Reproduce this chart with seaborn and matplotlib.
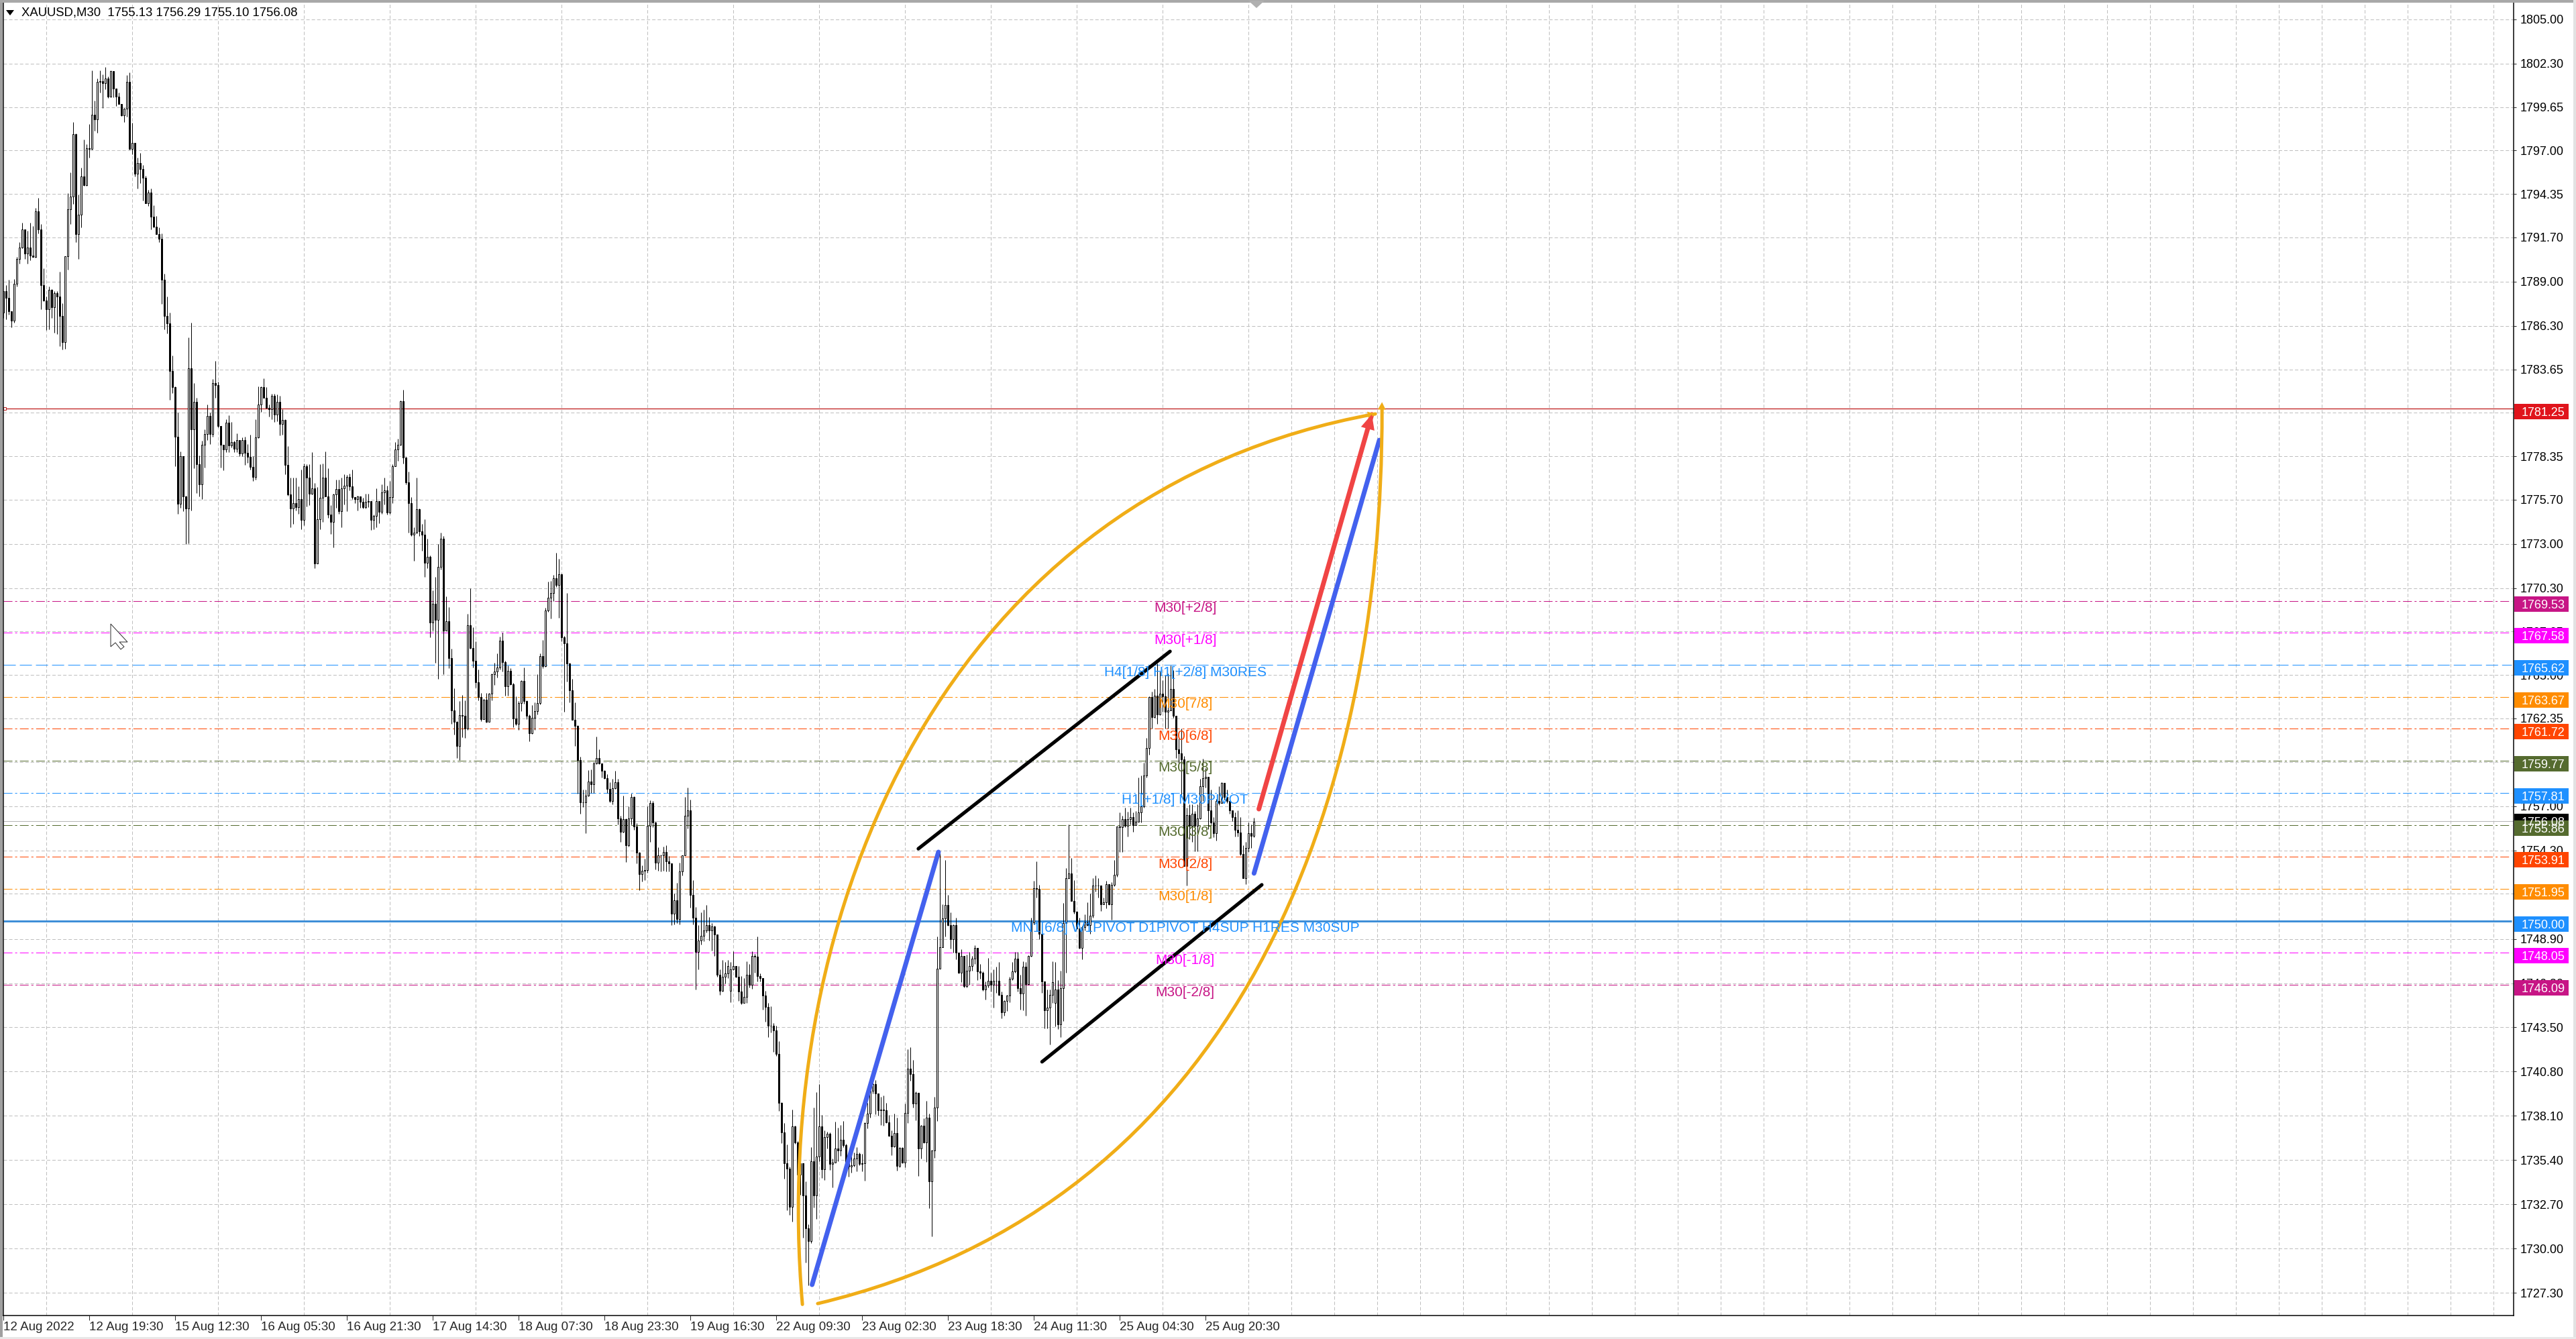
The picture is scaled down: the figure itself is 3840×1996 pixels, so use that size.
import matplotlib
matplotlib.use("Agg")
import matplotlib.pyplot as plt
from matplotlib.patches import PathPatch, Polygon, Rectangle
from matplotlib.path import Path
from matplotlib.transforms import IdentityTransform
import numpy as np
import pandas as pd
import seaborn as sns

sns.set_style("white")
plt.rcParams["font.family"] = ["Liberation Sans", "DejaVu Sans"]
plt.rcParams["lines.scale_dashes"] = False

# candles (one value per M30 bar)
closes = [
    1788.4,1788.0,1787.2,1786.6,1788.85,1790.4,1791.1,1792.2,1790.7,1791.1,
    1790.6,1790.5,1793.3,1792.2,1788.8,1787.85,1787.3,1788.5,1787.45,1788.3,
    1788.1,1786.9,1785.3,1790.55,1793.4,1794.2,1798.0,1791.9,1793.1,1795.4,
    1794.9,1797.15,1797.1,1799.2,1798.9,1801.2,1801.25,1801.1,1801.4,1800.3,
    1801.85,1800.8,1800.3,1799.85,1799.15,1799.55,1801.2,1797.1,1797.45,1795.6,
    1796.25,1795.85,1795.35,1793.8,1794.45,1792.95,1792.35,1791.9,1791.6,1789.1,
    1786.9,1786.45,1783.55,1782.55,1779.55,1775.45,1778.35,1775.9,1775.15,1783.7,
    1780,1781.65,1777.85,1776.65,1779.05,1779.7,1780.8,1779.7,1782.8,1782.7,
    1780.2,1779.05,1778.75,1780.4,1779,1779.2,1778.8,1779.35,1778.5,1779.35,
    1778.55,1778.3,1777.7,1777.1,1779.5,1781.5,1782.55,1781.9,1781.3,1781.2,
    1782.05,1780.9,1781.65,1780.3,1780.55,1777.8,1776,1775.15,1775.5,1775.25,
    1775.75,1774.45,1777.75,1777.05,1776.05,1776.4,1771.8,1774.5,1775.8,1777.05,
    1775.9,1774.8,1774.35,1776,1776.35,1775,1776.4,1776.55,1777.1,1776.5,
    1775.85,1775.75,1775.9,1775.55,1775.25,1775.55,1775.6,1774.45,1774.7,1775.6,
    1774.95,1776.15,1776.25,1774.9,1775.85,1777.75,1778.75,1779.05,1781.7,1778.25,
    1776.75,1775.5,1773.55,1773.7,1775.1,1773.75,1773.55,1771.85,1772.2,1768.2,
    1769.35,1768.35,1771.6,1773.3,1767.7,1768.3,1766.05,1762.85,1762.15,1760.65,
    1762.55,1762.5,1761.75,1768.05,1766.65,1765.85,1764.55,1763.65,1762.3,1763.5,
    1762.15,1763.85,1765.05,1765.2,1765.45,1767.1,1765.8,1764.3,1765.25,1764.45,
    1762.35,1762,1763.3,1764.65,1763.4,1762.5,1761.45,1762.4,1762.8,1763.3,
    1766.15,1765.55,1768.95,1769.7,1770,1770.9,1770.5,1771.15,1767.3,1766.95,
    1765.7,1764.05,1762.25,1761.9,1759.8,1757.25,1757.25,1757.65,1758.5,1758.35,
    1759.6,1759.95,1759.6,1759.15,1758.7,1758.05,1757.3,1758.1,1758.45,1756.25,
    1755.45,1756.2,1754.6,1756.25,1757.55,1755.75,1754.15,1752.85,1753.05,1753.1,
    1755.8,1757.2,1756,1753.55,1754,1754,1754.2,1753.65,1753.5,1750.45,
    1751.25,1750.1,1753,1754,1756.4,1756.75,1751.6,1750.2,1748.1,1748.8,
    1749.1,1749.4,1749.75,1749.4,1749.65,1749.15,1746.7,1745.75,1746.6,1746.8,
    1747.25,1747.05,1747.25,1746.6,1745.7,1745,1745.35,1746.7,1746.1,1747.85,
    1747.8,1746.65,1746.5,1745.45,1744.75,1743.6,1743.6,1743.3,1741.9,1738.9,
    1737.1,1735.2,1734.9,1732.55,1737.45,1736.5,1734.5,1735.2,1733.25,1731.25,
    1730.45,1735.35,1733.25,1735.6,1737.45,1734.85,1736.8,1737,1735.15,1735.25,
    1736.1,1736,1736.65,1736.3,1735.2,1735,1735.1,1735.5,1735.8,1735.15,
    1735.2,1737.65,1738.25,1739.65,1740.05,1739.45,1738.45,1738.5,1738.45,1737.7,
    1736.9,1736.25,1737.05,1735.05,1736.15,1735.25,1738.3,1741,1740.65,1738.85,
    1739.5,1736.1,1737.5,1736.5,1738,1734.1,1736,1738.6,1747.1,1748.4,
    1750.15,1750.95,1749.75,1748.9,1749.75,1748.05,1746.85,1747.85,1746,1746.95,
    1747.25,1747.7,1748.35,1746.9,1746.85,1745.8,1746.05,1746.35,1746.1,1746.35,
    1746.35,1745.5,1744.4,1745.1,1745.45,1746.45,1746.9,1747.7,1745.9,1745.55,
    1747.2,1746.15,1747.85,1749.9,1752,1751.95,1749.2,1746.3,1744.55,1744.7,
    1745.5,1746.25,1745.8,1743.7,1745.9,1749.85,1752.6,1752.9,1751.2,1750.55,
    1749.55,1748.35,1749.6,1749.9,1749.75,1750.3,1752.15,1752.15,1752.15,1751,
    1751.15,1752.25,1751,1752.2,1752.8,1755.75,1755.7,1756.2,1755.8,1756.2,
    1756.35,1755.85,1756.05,1756.6,1757,1758.85,1760.55,1763.65,1762.45,1763.75,
    1762.6,1763.85,1763.7,1762.75,1762.85,1764.15,1762.5,1760.45,1760.2,1759.85,
    1753.35,1756.45,1755.8,1756.55,1755.8,1756.25,1758.2,1758.7,1758.8,1756.75,
    1756,1755.35,1757.3,1757.2,1758.4,1757.55,1757.3,1756.75,1756.35,1755.55,
    1755.4,1754.1,1752.6,1754.45,1755.35,1755.2,1756.05,
]
highs = [
    1788.4,1788.8,1789.1,1787.2,1789.15,1790.5,1791.4,1792.6,1792.2,1792.1,
    1792.6,1792.4,1793.5,1794.1,1792.5,1789.8,1788.1,1788.7,1788.55,1788.4,
    1788.4,1789.6,1787.7,1790.55,1794.4,1795.65,1798.75,1798.05,1794.3,1795.95,
    1797.65,1797.4,1798.6,1801.9,1800.05,1801.4,1801.9,1801.65,1802.1,1801.5,
    1801.9,1801.85,1800.8,1800.55,1799.85,1799.6,1801.6,1801.75,1798.7,1797.45,
    1796.55,1796.85,1796.1,1795.45,1794.6,1794.7,1793.65,1793,1792.3,1791.95,
    1789.5,1788.1,1787.1,1784.5,1782.6,1781,1778.65,1778.35,1775.95,1785.6,
    1786.5,1782.8,1781.9,1778.4,1779.3,1780,1781.5,1781,1783.05,1784.15,
    1782.9,1780.2,1779.05,1780.6,1780.85,1780.45,1779.3,1779.75,1779.35,1779.5,
    1779.55,1779.1,1779.65,1778.35,1780.6,1782.6,1782.6,1783.1,1782.55,1781.5,
    1782.15,1782.15,1782.1,1782.05,1781.2,1780.6,1778.95,1777.05,1777.05,1777.05,
    1776.5,1777.55,1777.9,1777.85,1777.85,1778.6,1776.7,1776.45,1777.85,1777.9,
    1778.65,1777.6,1775.35,1776.05,1776.9,1776.9,1777.05,1777.25,1777.2,1777.3,
    1777.55,1775.85,1775.95,1775.9,1775.8,1776.05,1776.05,1775.6,1774.8,1776.4,
    1775.6,1776.65,1777.05,1776.55,1776.85,1777.85,1779.2,1779.4,1781.75,1782.4,
    1778.3,1777.4,1775.85,1774,1777.05,1775.15,1774.2,1774.5,1773.3,1772.3,
    1770.15,1771,1773,1773.7,1773.5,1769.8,1769.15,1766.6,1764.2,1762.2,
    1763.4,1763.8,1763.45,1768.75,1770.3,1767.9,1767.05,1765.35,1763.9,1763.55,
    1763.9,1763.9,1765.1,1765.75,1766.3,1767.35,1767.6,1765.85,1765.6,1765.4,
    1764.5,1763.7,1763.4,1764.7,1765.45,1763.45,1762.6,1763.15,1763.35,1765.05,
    1766.3,1767.15,1769.1,1770.7,1770.75,1771.1,1772.45,1772.1,1771.2,1767.4,
    1770,1765.75,1764.75,1763.35,1761.95,1760,1758,1758,1759.2,1759.25,
    1759.7,1761.25,1760.45,1759.6,1759.2,1758.95,1758.45,1758.65,1759.15,1758.65,
    1756.4,1757.65,1756.25,1757,1757.75,1757.6,1755.95,1754.2,1753.4,1753.8,
    1757,1757.35,1757.3,1756.05,1754.5,1754.05,1754.55,1754.6,1753.95,1753.5,
    1751.65,1752.3,1753.55,1754,1757.55,1758.15,1757.4,1752.5,1750.85,1749.75,
    1750.5,1750.7,1750.95,1750.25,1749.85,1749.7,1749.15,1747.05,1747.6,1747.5,
    1747.6,1747.5,1748.15,1747.25,1747.25,1746.65,1746.5,1747.55,1747.35,1748.15,
    1748,1749.05,1746.8,1746.5,1745.75,1745,1744.8,1743.75,1743.6,1742.65,
    1738.95,1737.65,1736.35,1735,1738.5,1737.5,1736.55,1736.15,1735.2,1734.1,
    1731.5,1736.2,1738.6,1739.55,1740.05,1738.15,1737.2,1737.15,1737.1,1735.5,
    1737.75,1737.4,1737.55,1737.8,1736.4,1735.3,1735.85,1735.85,1736.2,1735.85,
    1735.8,1737.7,1738.9,1739.85,1740.55,1740.3,1739.45,1739.25,1739.35,1738.9,
    1738.15,1737.2,1738.25,1738,1736.2,1736.2,1738.85,1742.15,1742.3,1741.5,
    1739.6,1739.5,1737.55,1737.95,1739,1738.25,1736.05,1739.25,1749.05,1754.15,
    1751,1753.7,1751.6,1750.5,1749.8,1750.2,1747.05,1748.25,1747.85,1747.95,
    1748.1,1747.85,1748.5,1747.2,1747.35,1746.9,1746.3,1747.75,1746.85,1747.05,
    1747.2,1747.5,1745.7,1745.15,1745.5,1746.6,1747.5,1748.1,1748.1,1746.7,
    1747.55,1747.5,1747.9,1750.2,1752.45,1753.65,1752.2,1749.2,1746.3,1745.8,
    1745.8,1747.55,1747.5,1746.4,1746.95,1751.1,1753.2,1755.9,1753.85,1752.5,
    1750.6,1750.2,1749.7,1750.4,1751.15,1751.65,1752.6,1752.75,1752.6,1751.4,
    1751.4,1752.45,1752.25,1752.35,1753.7,1755.75,1756.6,1756.4,1756.9,1756.65,
    1756.9,1756.6,1756.7,1758.75,1758.85,1759.65,1761.15,1763.7,1764,1764.15,
    1765.7,1765.2,1764.7,1765,1765.1,1765.6,1765.3,1762.5,1761.1,1761.75,
    1760.05,1756.9,1757.1,1757.1,1756.7,1757.1,1758.65,1759.9,1759.3,1758.75,
    1758,1756.35,1757.45,1758.2,1758.45,1758.2,1758,1757.25,1756.5,1756.6,
    1756.75,1756.35,1754.6,1754.8,1756,1755.9,1756.3,
]
lows = [
    1786.8,1786.7,1787,1786.2,1786.5,1788.7,1790.1,1791.05,1790.4,1790.1,
    1790.3,1790.5,1790.45,1791.95,1787.3,1787.8,1786.05,1786.1,1786.8,1785.9,
    1785.8,1785.05,1784.85,1784.9,1789.75,1792.5,1793.75,1791.4,1790.4,1792.3,
    1794.85,1794.85,1796.55,1797.05,1798.2,1798.1,1800.55,1799.6,1800.75,1800.2,
    1800.25,1800.25,1799.7,1799.85,1799.1,1798.75,1799.05,1797.05,1796.75,1795.4,
    1794.7,1795,1793.95,1793.8,1793.6,1792.2,1792.3,1791.9,1791.4,1787.65,
    1786.1,1785.85,1781.8,1782.2,1777.75,1774.85,1775.2,1775,1773,1773.05,
    1775.05,1777.6,1776.1,1775.9,1775.75,1777.65,1779.35,1779.1,1779.55,1781.9,
    1780.1,1777.65,1777.5,1778.6,1778.6,1778.9,1778.6,1778.6,1778.35,1778.35,
    1777.8,1777.95,1777.55,1776.85,1776.9,1779.45,1781.05,1781.9,1781.3,1780.75,
    1780.6,1780.45,1780.5,1779.6,1779.65,1777.25,1775.95,1774,1774.2,1775.05,
    1774.85,1773.9,1774.15,1775.3,1775.35,1776,1771.5,1771.8,1773.9,1774.35,
    1775.9,1774.6,1773.6,1772.8,1775.2,1774.85,1774,1775.4,1775,1776.25,
    1775.75,1775.5,1775.05,1775.2,1775.15,1775.15,1775.25,1773.85,1773.9,1774,
    1774.25,1774.85,1775.4,1774.8,1774.85,1775.5,1777.75,1778.05,1779,1777.9,
    1776.65,1773.7,1773.5,1771.95,1773.65,1773.5,1772.6,1771,1771.5,1767.3,
    1767.7,1765.75,1764.75,1771.45,1765.05,1767.75,1765.4,1762,1761.35,1759.95,
    1759.8,1761.2,1761.15,1761.65,1766.6,1765.45,1764.25,1763.45,1762.2,1762.35,
    1762.1,1762.3,1763.45,1764.4,1764.85,1765.35,1765.2,1763.75,1763.75,1764.4,
    1761.8,1761.95,1761.65,1762.8,1763.25,1762.3,1760.95,1761.4,1761.65,1762.6,
    1763.2,1765.4,1765.5,1768.85,1768.45,1769.5,1770.35,1768.5,1767.05,1762.75,
    1764.6,1763.35,1762.25,1760.65,1757.75,1756.55,1756.95,1755.35,1757.6,1757.8,
    1757.8,1759.55,1759.55,1758.75,1758.65,1757.8,1757.25,1757.1,1758.05,1755.9,
    1754.8,1755.4,1753.6,1754.55,1755.9,1755.55,1753.5,1751.85,1752.4,1752.5,
    1752.95,1754.8,1755.7,1753.15,1753.05,1753,1753.05,1753,1753,1749.75,
    1749.8,1749.85,1749.8,1752.75,1754,1755.65,1750.8,1749.8,1745.8,1747.05,
    1748.55,1748.75,1749.3,1748.8,1748.2,1747.85,1746.6,1745.5,1745.7,1746.2,
    1746.5,1745.05,1747,1746.55,1745.1,1744.9,1745,1745,1745.95,1745.85,
    1746.85,1746.3,1746.3,1744.6,1743.85,1742.9,1743.2,1742,1741.75,1738.4,
    1736.45,1734.25,1732.35,1732.05,1731.65,1736.4,1734.45,1733.3,1730.65,1729.15,
    1727.75,1730.35,1732.5,1731.8,1735.35,1734.3,1734.2,1736.1,1734.8,1733.75,
    1735.95,1735.35,1735.65,1736.2,1735.15,1734.4,1734.65,1735,1734.7,1735.1,
    1734.7,1734.15,1737.35,1738,1739.45,1738.2,1738.1,1737.55,1737.5,1737.65,
    1736.85,1735.7,1736.2,1734.75,1734.95,1735.2,1734.95,1737.65,1740.25,1738.6,
    1737.85,1734.45,1735.5,1736.45,1735.3,1732.45,1730.75,1735.55,1737.8,1747.1,
    1748.4,1749.05,1749.7,1748.3,1748.05,1747.65,1746.8,1746.25,1745.95,1745.95,
    1746.1,1746.95,1747.35,1746.4,1746.45,1745.75,1745.2,1745.95,1745.7,1744.7,
    1745.6,1745.45,1744.05,1744.2,1744.5,1745.05,1746.4,1746.85,1745.7,1744.6,
    1744.55,1744.2,1746.1,1747.8,1749.8,1751.4,1748.9,1745.6,1743.45,1743.45,
    1742.45,1745,1743.55,1743.4,1742.9,1743.9,1746.85,1752.55,1751.2,1750.45,
    1749.5,1748.3,1747.65,1749.4,1749.7,1749.2,1750.2,1751.8,1751.4,1750.6,
    1751,1750.75,1750.95,1750.05,1752.1,1752.7,1754.2,1754.2,1755.7,1755.15,
    1755.9,1755.45,1756,1756.55,1756,1756.9,1758.75,1760.15,1761.75,1762.4,
    1762,1762.55,1762.75,1761.75,1761.75,1762.95,1762.4,1759.95,1759.65,1757.55,
    1753.35,1752.15,1755,1754.8,1754.25,1754.25,1756.2,1757.3,1758.15,1755.6,
    1755.9,1755.1,1754.9,1757.05,1757.5,1757.4,1757.2,1756.55,1756.1,1755.15,
    1755.15,1754,1752.6,1752.25,1754.2,1754.45,1755.1,
]
first_open = 1787.1
open_gaps = {271: 1745.75, 392: 1745.0}

# axis labels
y_tick_values = [1805.00, 1802.30, 1799.65, 1797.00, 1794.35, 1791.70, 1789.00, 1786.30, 1783.65,
                 1781.00, 1778.35, 1775.70, 1773.00, 1770.30, 1767.65, 1765.00, 1762.35, 1759.70,
                 1757.00, 1754.30, 1751.65, 1748.90, 1746.20, 1743.50, 1740.80, 1738.10, 1735.40,
                 1732.70, 1730.00, 1727.30]
x_tick_labels = ["12 Aug 2022", "12 Aug 19:30", "15 Aug 12:30", "16 Aug 05:30", "16 Aug 21:30",
                 "17 Aug 14:30", "18 Aug 07:30", "18 Aug 23:30", "19 Aug 16:30", "22 Aug 09:30",
                 "23 Aug 02:30", "23 Aug 18:30", "24 Aug 11:30", "25 Aug 04:30", "25 Aug 20:30"]

# murrey levels
level_prices = [1769.53, 1767.58, 1765.62, 1763.67, 1761.72, 1759.77, 1757.81,
                1755.86, 1753.91, 1751.95, 1750.00, 1748.05, 1746.09]
level_colors = ["#C71585", "#FF00FF", "#1E90FF", "#FF8C00", "#FF4500", "#556B2F", "#1E90FF",
                "#556B2F", "#FF4500", "#FF8C00", "#1E90FF", "#FF00FF", "#C71585"]
level_texts = ["M30[+2/8]", "M30[+1/8]", "H4[1/8] H1[+2/8] M30RES", "M30[7/8]", "M30[6/8]", "M30[5/8]",
               "H1[+1/8] M30PIVOT", "M30[3/8]", "M30[2/8]", "M30[1/8]",
               "MN1[6/8] W1PIVOT D1PIVOT H4SUP H1RES M30SUP", "M30[-1/8]", "M30[-2/8]"]
current_price = 1756.08
target_price = 1781.25

# drawn objects, as (bar, price)
arc_upper_bar = [297.7, 297.3, 298.5, 299.7, 303.7, 308.9, 373.7, 390.5, 448.7, 463.7, 480, 496.2, 511.2]
arc_upper_price = [1726.6, 1731.8, 1738.0, 1741.1, 1745, 1748.9, 1769.1, 1771.3, 1777.6, 1778.6, 1779.6, 1780.4, 1780.93]
arc_lower_bar = [303.4, 336.4, 352.3, 368.2, 384.2, 400.2, 416.2, 431.9, 447.9, 451.7, 463.9, 469.4, 478.9, 488.4, 498, 502.9, 507.7, 510.4, 512.4, 513.7]
arc_lower_price = [1726.65, 1728.33, 1729.6, 1730.83, 1732.38, 1734.1, 1736.2, 1738.93, 1742.04, 1742.74, 1745.93, 1747.65, 1750.76, 1754.4, 1760.05, 1764.1, 1769.02, 1771.4, 1775.8, 1781.2]
blue_bar = [[301.3, 348.4], [466, 512.7]]
blue_price = [[1727.8, 1754.2], [1752.9, 1779.33]]
black_bar = [[340.9, 434.7], [387, 468.9]]
black_price = [[1754.4, 1766.44], [1741.4, 1752.2]]
red_bar = [467.8, 509.9]
red_price = [1756.82, 1780.9]

W, H = 3840, 1996
PX = 0.72  # one pixel in points at dpi 100
ORANGE, BLUE, RED = "#F0AD17", "#4361EE", "#F04444"

df = pd.DataFrame({"close": closes, "high": highs, "low": lows})
df["bar"] = df.index
df["open"] = df["close"].shift(1).fillna(first_open)
for bar, value in open_gaps.items():
    df.loc[bar, "open"] = value
rising = df["close"] >= df["open"]

fig = plt.figure(figsize=(W / 100, H / 100), dpi=100, facecolor="white")
ax = fig.add_axes([4.5 / W, (H - 1961) / H, (3747 - 4.5) / W, (1961 - 4) / H])
ax.set_xlim(-0.2, 935.4)
ax.set_ylim(1725.92, 1806.02)
ax.set_axisbelow(True)

# grid and ticks
ax.set_yticks(y_tick_values)
ax.set_yticklabels([f"{v:.2f}" for v in y_tick_values])
ax.set_xticks(np.arange(len(x_tick_labels)) * 32)
ax.set_xticklabels(x_tick_labels, ha="left")
ax.set_xticks(np.arange(0, 935, 16), minor=True)
ax.grid(True, axis="y", which="major", color="#BEBEBE", lw=PX, ls=(0, (3.6, 2.2)), snap=True)
ax.grid(True, axis="x", which="minor", color="#BEBEBE", lw=PX, ls=(0, (3.6, 2.2)), snap=True)
ax.tick_params(axis="y", which="major", left=False, right=True, labelleft=False, labelright=True,
               length=3, width=PX, pad=4, labelsize=13, labelcolor="black")
ax.tick_params(axis="x", which="major", bottom=True, length=5, width=PX, pad=1.5, labelsize=13.5)
ax.tick_params(axis="x", which="minor", bottom=False)
for side in ["left", "bottom", "right"]:
    ax.spines[side].set_color("black")
    ax.spines[side].set_linewidth(1.5 * PX)
ax.spines["top"].set_visible(False)

# levels behind the candles
for price, color in zip(level_prices, level_colors):
    if price == 1750.00:
        style, width = "-", 3 * PX
        color = "#3F8FD8"
    elif price == 1765.62:
        style, width = (0, (13, 4.3)), PX
    else:
        style, width = (0, (9.4, 2.9, 2.2, 2.9)), PX
    levels = ax.hlines(price, 0, 934.6, colors=color, linestyles=style, linewidth=width, zorder=1.8)
    levels.set_snap(True)
ax.hlines(target_price, 0.4, 935.4, colors="#C02020", linewidth=1.3 * PX, zorder=1.9)
ax.hlines(current_price, -0.2, 935.4, colors="#B4B4B4", linewidth=PX, zorder=1.7)
ax.plot([0.4], [target_price], marker="s", ms=3.2, mfc="white", mec="#C02020", mew=PX, zorder=2)

# candles
ax.vlines(df["bar"], df["low"], df["high"], colors="black", linewidth=PX, zorder=2.2)
body_low = df[["open", "close"]].min(axis=1)
body_size = (df["open"] - df["close"]).abs()
ax.bar(df["bar"][rising], body_size[rising], bottom=body_low[rising], width=0.5,
       color="white", edgecolor="black", linewidth=PX, zorder=2.3)
ax.bar(df["bar"][~rising], body_size[~rising], bottom=body_low[~rising], width=0.5,
       color="black", edgecolor="black", linewidth=PX, zorder=2.3)

# drawn lines
line_style = dict(estimator=None, sort=False, legend=False, ax=ax, zorder=4)
for xs, ys in zip(blue_bar, blue_price):
    sns.lineplot(x=xs, y=ys, color=BLUE, linewidth=7 * PX, solid_capstyle="round", **line_style)
for xs, ys in zip(black_bar, black_price):
    sns.lineplot(x=xs, y=ys, color="black", linewidth=5.2 * PX, solid_capstyle="round", **line_style)
sns.lineplot(x=red_bar, y=red_price, color=RED, linewidth=7 * PX, solid_capstyle="round", **line_style)
ax.set_xlabel("")
ax.set_ylabel("")

# the two arcs are single curve objects: one cubic bezier fitted to the read anchors
def smooth_arc(xs, ys):
    scale = np.array([4.0, 24.43])  # pixels per bar and per dollar
    pts = np.column_stack([xs, ys]) * scale
    p0, p3 = pts[0], pts[-1]
    steps = np.r_[0, np.cumsum(np.hypot(*np.diff(pts, axis=0).T))]
    t = steps / steps[-1]
    for _ in range(8):
        b1, b2 = 3 * t * (1 - t) ** 2, 3 * t ** 2 * (1 - t)
        rest = pts - np.outer((1 - t) ** 3, p0) - np.outer(t ** 3, p3)
        ctrl = np.linalg.lstsq(np.column_stack([b1, b2]), rest, rcond=None)[0]
        grid = np.linspace(0, 1, 801)
        curve = (np.outer((1 - grid) ** 3, p0) + np.outer(3 * grid * (1 - grid) ** 2, ctrl[0])
                 + np.outer(3 * grid ** 2 * (1 - grid), ctrl[1]) + np.outer(grid ** 3, p3))
        nearest = ((pts[:, None, :] - curve[None, :, :]) ** 2).sum(axis=2).argmin(axis=1)
        t = grid[nearest]
    verts = np.vstack([p0, ctrl[0], ctrl[1], p3]) / scale
    path = Path(verts, [Path.MOVETO, Path.CURVE4, Path.CURVE4, Path.CURVE4])
    ax.add_patch(PathPatch(path, fill=False, edgecolor=ORANGE, linewidth=5 * PX,
                           capstyle="round", zorder=4))

smooth_arc(arc_upper_bar, arc_upper_price)
smooth_arc(arc_lower_bar, arc_lower_price)
ax.set_xlim(-0.2, 935.4)
ax.set_ylim(1725.92, 1806.02)

# arrow heads
def arrow_head(xs, ys, color, length, half_width):
    ax.annotate("", xy=(xs[-1], ys[-1]), xytext=(xs[-2], ys[-2]), zorder=4.5,
                arrowprops=dict(arrowstyle=f"-|>,head_length={length},head_width={half_width}",
                                mutation_scale=1, color=color, lw=0, shrinkA=0, shrinkB=0))

arrow_head(arc_upper_bar, arc_upper_price, ORANGE, 8, 4.2)
arrow_head(arc_lower_bar[-2:], [arc_lower_price[-2], arc_lower_price[-1] + 0.45], ORANGE, 8, 4.2)
arrow_head(red_bar, red_price, RED, 16, 7.5)

# level captions
for price, color, text in zip(level_prices, level_colors, level_texts):
    ax.text(440.3, price - 0.45, text, color=color, fontsize=15, ha="center", va="center", zorder=5)

# price boxes on the right axis
def price_box(price, color, shift=0.19):
    y = price - shift
    ax.add_patch(Rectangle((935.6, y - 0.47), 20.3, 0.94, facecolor=color, edgecolor="none",
                           clip_on=False, zorder=6))
    ax.text(938.4, y, f"{price:.2f}", color="white", fontsize=13, ha="left", va="center_baseline",
            clip_on=False, zorder=7)

price_box(current_price, "black", shift=0.0)
for price, color in zip(level_prices, level_colors):
    price_box(price, color)
price_box(target_price, "#E0141C")

# window chrome and header
def px(x, y):
    return (x, H - y)

chrome = IdentityTransform()
fig.add_artist(Rectangle(px(0, H), 3.5, H, transform=chrome, color="#A0A0A0", lw=0))
fig.add_artist(Rectangle(px(0, 3.5), W, 3.5, transform=chrome, color="#A8A8A8", lw=0))
fig.add_artist(Rectangle(px(W - 4, H), 4, H, transform=chrome, color="#E2E2E2", lw=0))
fig.add_artist(Rectangle(px(0, H), W, 3, transform=chrome, color="#E8E8E8", lw=0))
fig.add_artist(Polygon([px(9, 15), px(21, 15), px(15, 23)], transform=chrome, color="black", lw=0))
fig.add_artist(Polygon([px(1861, 1), px(1885, 1), px(1873, 12)], transform=chrome, color="#B0B0B0", lw=0))
fig.add_artist(Polygon([px(165, 930), px(190, 957), px(178, 957), px(185, 964), px(180, 968),
                        px(172, 958), px(165, 964)], transform=chrome,
                       facecolor="white", edgecolor="#303030", lw=PX))
fig.text(32 / W, 1 - 19 / H, "XAUUSD,M30  1755.13 1756.29 1755.10 1756.08",
         fontsize=13.3, color="black", ha="left", va="center")

fig.savefig("out.png", dpi=100, facecolor="white")
